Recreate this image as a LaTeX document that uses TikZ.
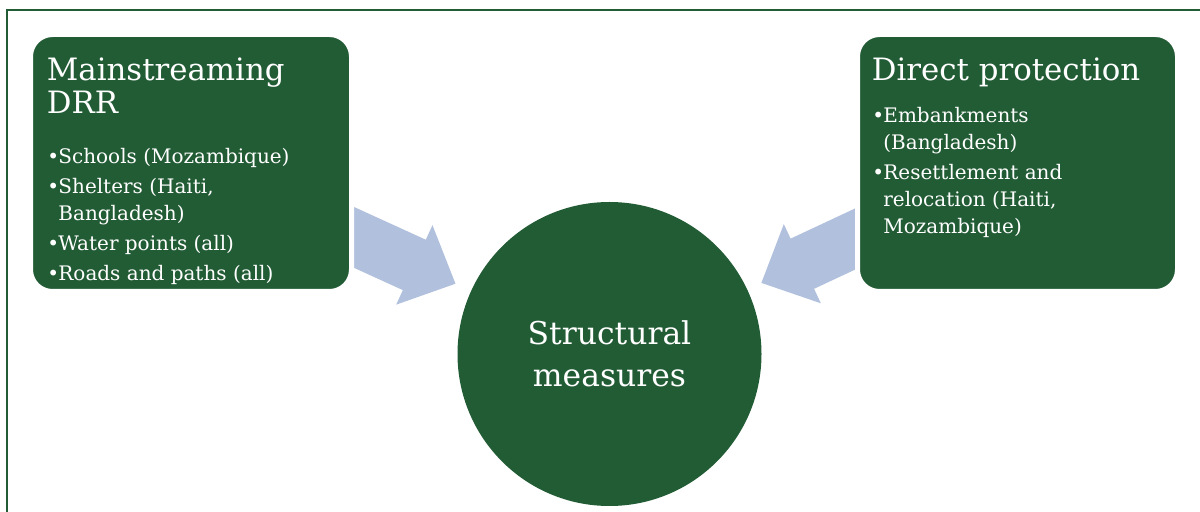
\documentclass[tikz,border=0pt]{standalone}
\usepackage{fontspec}
\setmainfont{DejaVu Serif}
\usepackage{tikz}
\usetikzlibrary{positioning,shapes.arrows,backgrounds}
\definecolor{drrgreen}{HTML}{225C35}
\definecolor{arrowblue}{HTML}{B1C1DD}
\newcommand{\bl}{\makebox[5.5pt][l]{\textbullet}}
\newcommand{\ind}{\hspace*{5.5pt}}
\tikzset{
    box/.style={fill=drrgreen, draw=white, line width=2.5pt, outer sep=0pt, rounded corners=11pt},
    heading/.style={text=white, anchor=north west, align=left, inner sep=0pt, font=\fontsize{15.4}{16.8}\selectfont},
    items/.style={text=white, anchor=north west, align=left, inner sep=0pt, font=\fontsize{10}{13.5}\selectfont},
    blockarrow/.style={single arrow, fill=arrowblue, sloped, allow upside down, inner xsep=0pt, inner ysep=13.65pt, single arrow head extend=8pt, single arrow tip angle=88, minimum height=68pt}
}

\begin{document}
\begin{tikzpicture}[x=0.5pt,y=-0.5pt]
                \useasboundingbox (0,0) rectangle (1200,512);
                \draw[drrgreen, line width=1.3pt] (1210,10) -- (7,10) -- (7,520);
                \node[box, minimum width=160.5pt, minimum height=128.5pt] (ms) at (191,163) {};
                \node[box, minimum width=160pt, minimum height=128.5pt] (dp) at (1017.5,163) {};
                \node[circle, fill=drrgreen, minimum size=152pt, inner sep=0pt, text=white, align=center,
                      font=\fontsize{15.7}{21}\selectfont] (sm) at (609.5,354) {Structural\\measures};
                \node[heading] (mst) at ([shift={(16,22.5)}]ms.north west) {Mainstreaming\\DRR};
                \node[items] (msl) at ([shift={(16.5,113)}]ms.north west)
                    {\bl Schools (Mozambique)\\[1.5pt]
                     \bl Shelters (Haiti,\\ \ind Bangladesh)\\[1.5pt]
                     \bl Water points (all)\\[1.5pt]
                     \bl Roads and paths (all)};
                \node[heading] (dpt) at ([shift={(14,22.5)}]dp.north west) {Direct protection};
                \node[items] (dpl) at ([shift={(14.5,72)}]dp.north west)
                    {\bl Embankments\\ \ind (Bangladesh)\\[1.5pt]
                     \bl Resettlement and\\ \ind relocation (Haiti,\\ \ind Mozambique)};
                \begin{pgfonlayer}{background}
                \path (ms.center) -- (sm.center) node[blockarrow, pos=0.453] (a1) {};
                \path (dp.center) -- (sm.center) node[blockarrow, pos=0.445] (a2) {};
                \end{pgfonlayer}
            \end{tikzpicture}
\end{document}
